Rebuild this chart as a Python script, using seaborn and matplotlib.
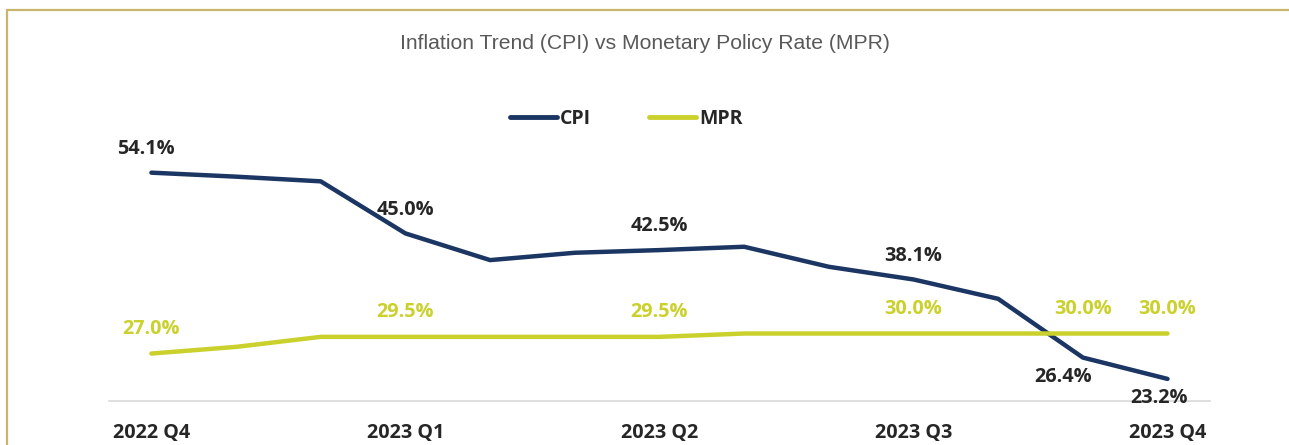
import pandas as pd
import numpy as np
import matplotlib.pyplot as plt
import seaborn as sns
from matplotlib.lines import Line2D

# monthly points, Dec 2022 -> Dec 2023
periods = list(range(13))
tick_pos = [0, 3, 6, 9, 12]
tick_labels = ["2022 Q4", "2023 Q1", "2023 Q2", "2023 Q3", "2023 Q4"]
cpi = [54.1, 53.5, 52.8, 45.0, 41.0, 42.1, 42.5, 43.0, 40.0, 38.1, 35.2, 26.4, 23.2]
mpr = [27.0, 28.0, 29.5, 29.5, 29.5, 29.5, 29.5, 30.0, 30.0, 30.0, 30.0, 30.0, 30.0]
cpi_labelled = [0, 3, 6, 9, 11, 12]
mpr_labelled = [0, 3, 6, 9, 11, 12]

navy = "#1C3664"
lime = "#CBD12C"

df = pd.DataFrame({"period": periods * 2,
                   "value": cpi + mpr,
                   "series": ["CPI"] * 13 + ["MPR"] * 13})

sns.set_style("white")
plt.rcParams['font.family'] = ['Open Sans', 'DejaVu Sans']

fig = plt.figure(figsize=(12.89, 4.45), dpi=100)
ax = fig.add_axes([0.0846, 0.099, 0.854, 0.60])

sns.lineplot(data=df, x="period", y="value", hue="series",
             palette={"CPI": navy, "MPR": lime}, linewidth=3.2,
             legend=False, ax=ax)
for l in ax.get_lines():
    l.set_solid_capstyle("round")

ax.set_xlim(-0.5, 12.5)
ax.set_ylim(19.9, 59.9)

# value labels
for i in cpi_labelled:
    dy = -14 if i >= 11 else 17
    dx = -14 if i == 11 else (-4 if i == 0 else -6 if i == 12 else 0)
    ax.annotate(f"{cpi[i]:.1f}%", (periods[i], cpi[i]), xytext=(dx, dy),
                textcoords="offset points", ha="center", va="center",
                fontsize=14.3, fontweight="bold", color="#262626")
for i in mpr_labelled:
    ax.annotate(f"{mpr[i]:.1f}%", (periods[i], mpr[i]), xytext=(0, 18),
                textcoords="offset points", ha="center", va="center",
                fontsize=14.3, fontweight="bold", color=lime)

ax.set_xticks(tick_pos)
ax.set_xticklabels(tick_labels, fontsize=14.2, fontweight="bold", color="#262626")
ax.tick_params(axis="x", length=0, pad=16)
ax.set_yticks([])
ax.set_xlabel("")
ax.set_ylabel("")
for s in ["top", "right", "left"]:
    ax.spines[s].set_visible(False)
ax.spines["bottom"].set_color("#D9D9D9")
ax.spines["bottom"].set_linewidth(1.2)

handles = [Line2D([0], [0], color=navy, lw=3.5, solid_capstyle="round"),
           Line2D([0], [0], color=lime, lw=3.5, solid_capstyle="round")]
leg = fig.legend(handles, ["CPI", "MPR"], loc="center", bbox_to_anchor=(0.486, 0.732),
                 ncol=2, frameon=False, handlelength=2.4, handletextpad=0.15,
                 columnspacing=3.0, prop={"weight": "bold", "size": 14})

fig.text(0.5, 0.903, "Inflation Trend (CPI) vs Monetary Policy Rate (MPR)",
         ha="center", va="center", fontsize=15.2, color="#595959",
         family=["Liberation Sans", "DejaVu Sans"])

# outer frame (top and left edges visible)
fig.add_artist(Line2D([0.0054, 1.0], [0.9775, 0.9775], color="#C8B46A", lw=1.6))
fig.add_artist(Line2D([0.0054, 0.0054], [0.0, 0.9775], color="#C8B46A", lw=1.6))

fig.savefig("out.png", dpi=100, facecolor="white")
